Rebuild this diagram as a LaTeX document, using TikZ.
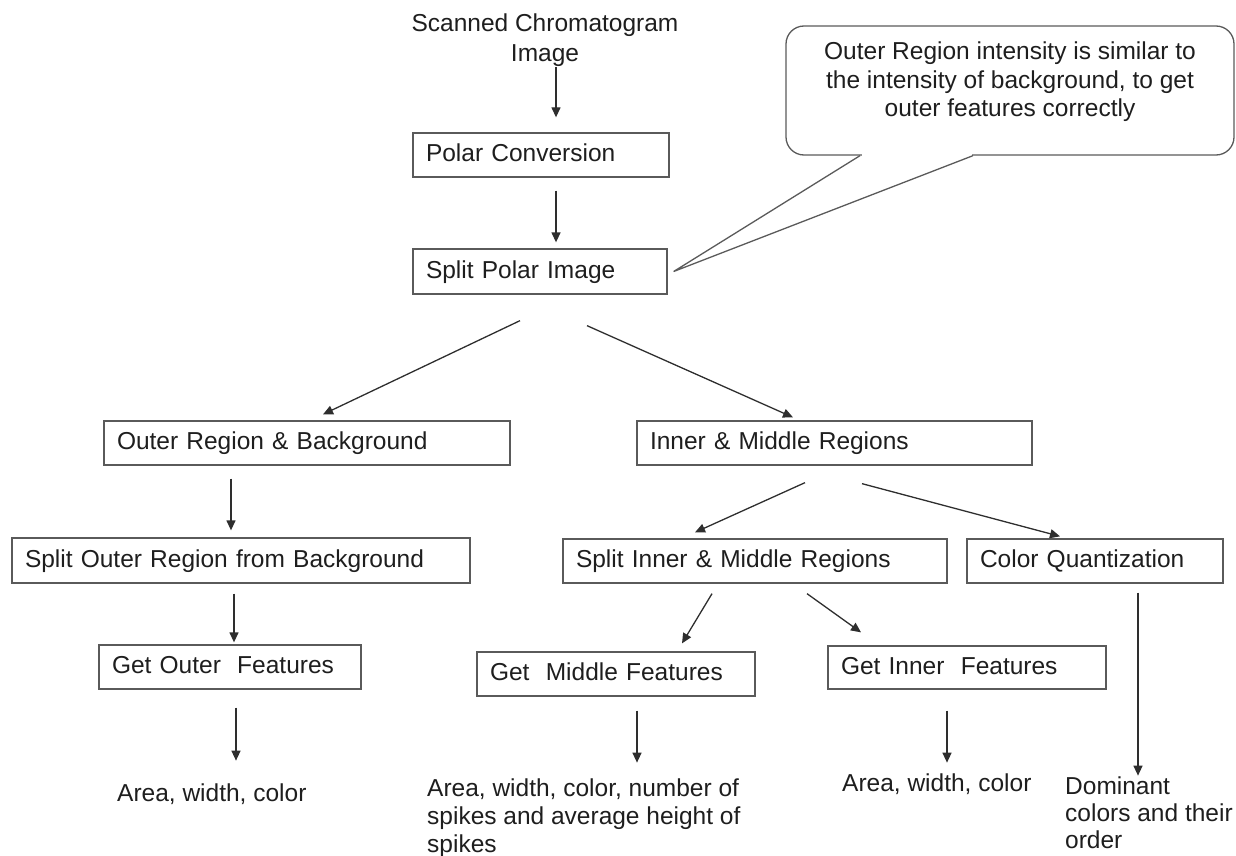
\documentclass[tikz,border=0pt]{standalone}
\usepackage{fontspec}
\setmainfont{Liberation Sans}
\usetikzlibrary{arrows.meta}
\definecolor{boxgray}{HTML}{5A5A5A}
\definecolor{arrgray}{HTML}{2E2E2E}
\definecolor{txtgray}{HTML}{1E1E1E}
\newcommand\myfs[1]{\fontsize{24.5pt}{#1pt}\selectfont}
\begin{document}
\begin{tikzpicture}[x=1pt,y=-1pt,
  box/.style={draw=boxgray, line width=1.3pt, rectangle, inner xsep=13pt, inner ysep=0pt,
    align=left, text height=18pt, text depth=5pt, font=\myfs{29}, text=txtgray},
  arr/.style={draw=arrgray, line width=1.3pt, -{Triangle[length=10pt,width=9pt]}},
  plain/.style={inner sep=0pt, text=txtgray},
  callshape/.style={draw=boxgray, line width=1.3pt, rectangle, rounded corners=18pt, inner sep=0pt},
  callline/.style={draw=boxgray, line width=1.3pt, line join=miter}]
\useasboundingbox (0,0) rectangle (1236,856);

% top text
\node[plain, anchor=north, align=center, font=\myfs{30}] (scan) at (545,14) {Scanned Chromatogram\\Image};

% boxes
\node[box, text width=230pt, minimum height=44pt] (polar) at (541,155) {Polar Conversion};
\node[box, text width=228pt, minimum height=45pt] (split) at (540,271.5) {Split Polar Image};
\node[box, text width=380pt, minimum height=44pt] (outer) at (307,443) {Outer Region \& Background};
\node[box, text width=369pt, minimum height=44pt] (inner) at (834.5,443) {Inner \& Middle Regions};
\node[box, text width=432pt, minimum height=45pt] (splitouter) at (241,560.5) {Split Outer Region from Background};
\node[box, text width=358pt, minimum height=44pt] (splitinner) at (755,561) {Split Inner \& Middle Regions};
\node[box, text width=230pt, minimum height=44pt] (colorq) at (1095,561) {Color Quantization};
\node[box, text width=236pt, minimum height=44pt] (getouter) at (230,667) {Get Outer~ Features};
\node[box, text width=252pt, minimum height=44pt] (getmiddle) at (616,674) {Get~ Middle Features};
\node[box, text width=252pt, minimum height=43pt] (getinner) at (967,667.5) {Get Inner~ Features};

% result texts
\node[plain, anchor=north west, font=\myfs{28}] (res1) at (117,784) {Area, width, color};
\node[plain, anchor=north west, align=left, font=\myfs{28}] (res2) at (427,779) {Area, width, color, number of\\spikes and average height of\\spikes};
\node[plain, anchor=north west, font=\myfs{28}] (res3) at (842,774) {Area, width, color};
\node[plain, anchor=north west, align=left, font=\myfs{27}] (dom) at (1065,777) {Dominant\\colors and their\\order};

% callout
\node[callshape, minimum width=448pt, minimum height=129pt] (call) at (1010,90.5) {};
\fill[white] ([shift={(-148.5,-3)}]call.south) rectangle ([shift={(-38.5,3)}]call.south);
\draw[callline] ([xshift=-150]call.south) -- ([xshift=6]split.east) -- ([xshift=-37]call.south);
\node[plain, anchor=north, align=center, font=\myfs{28.5}] (calltext) at (1010,42)
  {Outer Region intensity is similar to\\the intensity of background, to get\\outer features correctly};

% arrows
\draw[arr] ([xshift=11]scan.south) -- ([shift={(15,-15)}]polar.north);
\draw[arr] ([shift={(15,13)}]polar.south) -- ([shift={(16,-6)}]split.north);
\draw[arr] ([shift={(-20,26)}]split.south) -- ([shift={(16,-6)}]outer.north);
\draw[arr] ([shift={(47,31)}]split.south) -- ([shift={(-41.5,-3)}]inner.north);
\draw[arr] ([shift={(-76,13)}]outer.south) -- ([shift={(-10,-7)}]splitouter.north);
\draw[arr] ([shift={(-29.5,17)}]inner.south) -- ([shift={(-60,-6)}]splitinner.north);
\draw[arr] ([shift={(27.5,18)}]inner.south) -- ([shift={(-35,-2)}]colorq.north);
\draw[arr] ([shift={(-7,10)}]splitouter.south) -- ([shift={(4,-2)}]getouter.north);
\draw[arr] ([shift={(-43,10)}]splitinner.south) -- ([shift={(66,-8)}]getmiddle.north);
\draw[arr] ([shift={(52,10)}]splitinner.south) -- ([shift={(-106,-13)}]getinner.north);
\draw[arr] ([shift={(43,9)}]colorq.south) -- ([shift={(43,192)}]colorq.south);
\draw[arr] ([shift={(6,18)}]getouter.south) -- ([shift={(6,71)}]getouter.south);
\draw[arr] ([shift={(21,14)}]getmiddle.south) -- ([shift={(21,66)}]getmiddle.south);
\draw[arr] ([shift={(-20,21)}]getinner.south) -- ([shift={(-20,73)}]getinner.south);
\end{tikzpicture}
\end{document}
